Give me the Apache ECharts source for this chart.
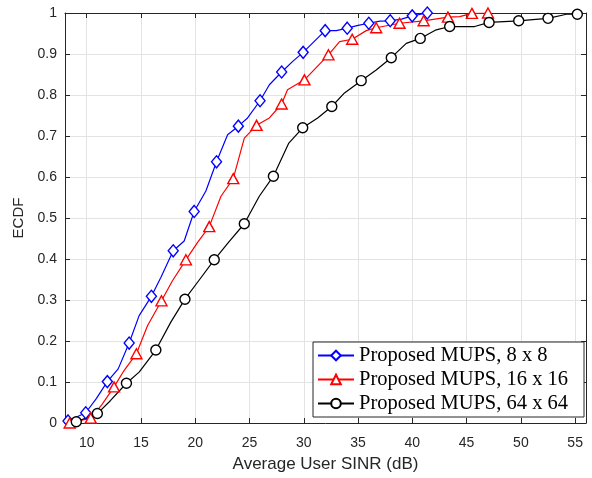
<!DOCTYPE html>
<html>
<head>
<meta charset="utf-8">
<script src="https://cdn.jsdelivr.net/npm/echarts@6/dist/echarts.min.js"></script>
<style>
html,body{margin:0;padding:0;background:#fff;}
#chart{width:592px;height:478px;}
</style>
</head>
<body>
<div id="chart"></div>
<script>
// ---- data ----
const seriesNames = ['Proposed MUPS, 8 x 8', 'Proposed MUPS, 16 x 16', 'Proposed MUPS, 64 x 64'];
const xTicks = [10, 15, 20, 25, 30, 35, 40, 45, 50, 55];

// 8 x 8 (blue, diamonds)
const blueMarkX = [8.28, 9.91, 11.9, 13.91, 15.96, 17.97, 19.9, 21.96, 23.97, 25.97, 27.96, 29.94, 31.97, 34.0, 35.99, 37.96, 39.99, 41.38];
const blueMarkY = [0.005, 0.025, 0.101, 0.195, 0.309, 0.420, 0.516, 0.637, 0.724, 0.786, 0.856, 0.904, 0.957, 0.963, 0.975, 0.981, 0.993, 1.0];
const blueMidX = [10.9, 12.9, 14.83, 16.83, 18.98, 20.98, 22.98, 24.82, 26.83, 28.98, 33.0, 35.0, 37.0, 39.0];
const blueMidY = [0.06, 0.132, 0.262, 0.355, 0.444, 0.566, 0.703, 0.744, 0.825, 0.882, 0.957, 0.970, 0.980, 0.985];

// 16 x 16 (red, triangles)
const redMarkX = [8.43, 10.37, 12.52, 14.58, 16.89, 19.14, 21.29, 23.5, 25.65, 27.96, 30.06, 32.27, 34.46, 36.67, 38.82, 41.04, 43.28, 45.49, 46.97];
const redMarkY = [0.0, 0.012, 0.088, 0.169, 0.298, 0.398, 0.479, 0.596, 0.726, 0.778, 0.837, 0.898, 0.936, 0.964, 0.975, 0.981, 0.990, 0.999, 1.0];
const redMidX = [11.4, 13.44, 15.6, 17.9, 20.2, 22.37, 24.52, 26.83, 28.5, 33.3, 35.75, 44.36];
const redMidY = [0.045, 0.128, 0.237, 0.347, 0.44, 0.553, 0.695, 0.744, 0.813, 0.930, 0.957, 0.991];

// 64 x 64 (black, circles)
const blackMarkX = [9.04, 10.98, 13.66, 16.37, 19.05, 21.75, 24.52, 27.2, 29.9, 32.58, 35.29, 38.06, 40.73, 43.44, 47.07, 49.8, 52.5, 55.2];
const blackMarkY = [0.003, 0.023, 0.097, 0.178, 0.302, 0.398, 0.486, 0.602, 0.720, 0.772, 0.835, 0.891, 0.938, 0.967, 0.977, 0.981, 0.987, 0.997];
const blackMidX = [12.2, 14.83, 17.75, 20.4, 23.1, 25.9, 28.6, 31.28, 33.75, 36.67, 39.44, 42.2, 45.74, 51.1, 54.2];
const blackMidY = [0.055, 0.124, 0.246, 0.350, 0.442, 0.553, 0.682, 0.744, 0.805, 0.861, 0.926, 0.959, 0.967, 0.984, 0.997];

// ---- build ----
function build(mx, my, ix, iy) {
  const pts = [];
  mx.forEach((x, i) => pts.push({ value: [x, my[i]] }));
  ix.forEach((x, i) => pts.push({ value: [x, iy[i]], symbol: 'none' }));
  pts.sort((a, b) => a.value[0] - b.value[0]);
  return pts;
}

const txt = '#262626';
const gridCol = '#e3e3e3';

function lineSeries(name, color, symbol, size, data) {
  return {
    name: name,
    type: 'line',
    data: data,
    symbol: symbol,
    symbolSize: size,
    showAllSymbol: true,
    lineStyle: { color: color, width: 1.2 },
    itemStyle: { color: '#fff', borderColor: color, borderWidth: 1.4 },
    emphasis: { disabled: true },
    animation: false,
    z: 3
  };
}

const chart = echarts.init(document.getElementById('chart'), null, { renderer: 'canvas' });

const xBase = {
  type: 'value', min: 8, max: 56,
  axisLine: { show: true, onZero: false, lineStyle: { color: txt, width: 1 } },
  axisTick: { show: true, inside: true, length: 5, customValues: xTicks, lineStyle: { color: txt } },
  splitLine: { show: false },
  axisLabel: { show: false }
};
const yBase = {
  type: 'value', min: 0, max: 1, interval: 0.1,
  axisLine: { show: true, onZero: false, lineStyle: { color: txt, width: 1 } },
  axisTick: { show: true, inside: true, length: 5, lineStyle: { color: txt } },
  splitLine: { show: false },
  axisLabel: { show: false }
};

chart.setOption({
  backgroundColor: '#fff',
  animation: false,
  grid: { left: 65, right: 6, top: 13, bottom: 54, containLabel: false },
  xAxis: [
    Object.assign({}, xBase, {
      position: 'bottom',
      splitLine: { show: true, lineStyle: { color: gridCol, width: 1 } },
      axisLabel: { show: true, customValues: xTicks, color: txt, fontSize: 14, fontFamily: 'Liberation Sans', margin: 13 },
      name: 'Average User SINR (dB)', nameLocation: 'middle', nameGap: 33,
      nameTextStyle: { color: txt, fontSize: 17, fontFamily: 'Liberation Sans' }
    }),
    Object.assign({}, xBase, { position: 'top' })
  ],
  yAxis: [
    Object.assign({}, yBase, {
      position: 'left',
      splitLine: { show: true, lineStyle: { color: gridCol, width: 1 } },
      axisLabel: { show: true, color: txt, fontSize: 14, fontFamily: 'Liberation Sans', margin: 8 },
      name: 'ECDF', nameLocation: 'middle', nameGap: 34, nameRotate: 90,
      nameTextStyle: { color: txt, fontSize: 15, fontFamily: 'Liberation Sans' }
    }),
    Object.assign({}, yBase, { position: 'right' })
  ],
  legend: {
    show: true,
    orient: 'vertical',
    left: 313, top: 342,
    data: seriesNames,
    itemWidth: 36, itemHeight: 12,
    itemGap: 3,
    padding: [3, 16, 3, 4],
    backgroundColor: '#fff',
    borderColor: txt, borderWidth: 1,
    textStyle: { color: '#000', fontSize: 20.5, lineHeight: 20, fontFamily: 'Liberation Serif' },
    selectedMode: false
  },
  series: [
    lineSeries(seriesNames[0], '#0000ff', 'diamond', [10, 12], build(blueMarkX, blueMarkY, blueMidX, blueMidY)),
    lineSeries(seriesNames[1], '#ff0000', 'triangle', [11, 10], build(redMarkX, redMarkY, redMidX, redMidY)),
    lineSeries(seriesNames[2], '#000000', 'circle', [10, 10], build(blackMarkX, blackMarkY, blackMidX, blackMidY))
  ]
});
</script>
</body>
</html>
